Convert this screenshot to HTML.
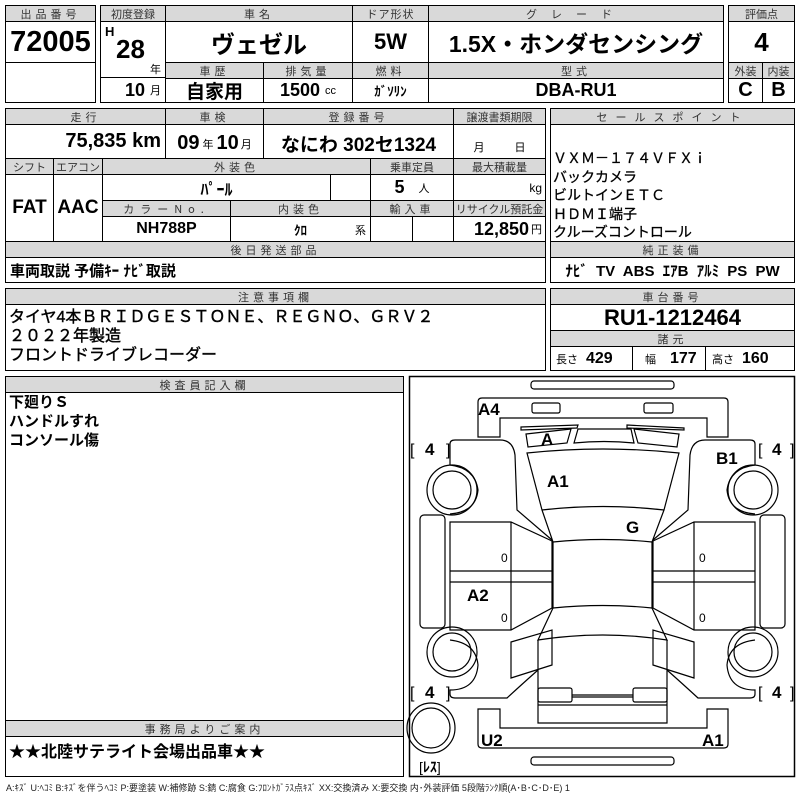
<!DOCTYPE html>
<html><head><meta charset="utf-8"><style>
body{margin:0;width:800px;height:800px;background:#fff;position:relative;overflow:hidden;font-family:"Liberation Sans Narrow","Liberation Sans","Noto Sans CJK JP",sans-serif;color:#000}
.b{position:absolute;border:1px solid #000;box-sizing:border-box;display:flex;align-items:center;justify-content:center;white-space:nowrap;overflow:hidden;font-weight:bold}
.h{background:#d9d9d9;font-size:11px;letter-spacing:4px;color:#333;font-weight:normal;font-family:"Noto Sans CJK JP",sans-serif}
.o{position:absolute;border:1.5px solid #000;box-sizing:border-box}
.t{position:absolute;white-space:nowrap;font-weight:bold}
.s{font-size:11px;font-weight:normal}
.j{font-family:"Liberation Sans","Noto Sans CJK JP",sans-serif}
</style></head><body>
<!-- box1 -->
<div class="o" style="left:5px;top:5px;width:91px;height:98px"></div>
<div class="b h" style="left:5px;top:5px;width:91px;height:17px">出品番号</div>
<div class="b" style="left:5px;top:21px;width:91px;height:42px;font-size:29px">72005</div>
<div class="b" style="left:5px;top:62px;width:91px;height:41px"></div>
<!-- box2 -->
<div class="o" style="left:100px;top:5px;width:624px;height:98px"></div>
<div class="b h" style="left:100px;top:5px;width:66px;height:17px;letter-spacing:0">初度登録</div>
<div class="b h" style="left:165px;top:5px;width:188px;height:17px">車名</div>
<div class="b h" style="left:352px;top:5px;width:77px;height:17px;letter-spacing:1px">ドア形状</div>
<div class="b h" style="left:428px;top:5px;width:296px;height:17px;letter-spacing:14px">グレード</div>
<div class="b" style="left:100px;top:21px;width:66px;height:57px"></div>
<div class="t" style="left:105px;top:24px;font-size:13px">H</div>
<div class="t" style="left:116px;top:34px;font-size:26px">28</div>
<div class="t s j" style="left:150px;top:61px">年</div>
<div class="b" style="left:100px;top:77px;width:66px;height:26px;font-size:18px;justify-content:flex-end;padding-right:4px">10<span class="s j" style="margin-left:5px">月</span></div>
<div class="b j" style="left:165px;top:21px;width:188px;height:42px;font-size:24px">ヴェゼル</div>
<div class="b" style="left:352px;top:21px;width:77px;height:42px;font-size:22px">5W</div>
<div class="b j" style="left:428px;top:21px;width:296px;height:42px;font-size:23px">1.5X・ホンダセンシング</div>
<div class="b h" style="left:165px;top:62px;width:99px;height:17px">車歴</div>
<div class="b h" style="left:263px;top:62px;width:90px;height:17px">排気量</div>
<div class="b h" style="left:352px;top:62px;width:77px;height:17px">燃料</div>
<div class="b h" style="left:428px;top:62px;width:296px;height:17px">型式</div>
<div class="b j" style="left:165px;top:78px;width:99px;height:25px;font-size:19px">自家用</div>
<div class="b" style="left:263px;top:78px;width:90px;height:25px;font-size:18px">1500<span class="s" style="margin-left:5px">cc</span></div>
<div class="b j" style="left:352px;top:78px;width:77px;height:25px;font-size:13px">ｶﾞｿﾘﾝ</div>
<div class="b" style="left:428px;top:78px;width:296px;height:25px;font-size:18px">DBA-RU1</div>
<!-- box3 -->
<div class="o" style="left:728px;top:5px;width:67px;height:98px"></div>
<div class="b h" style="left:728px;top:5px;width:67px;height:17px;letter-spacing:0">評価点</div>
<div class="b" style="left:728px;top:21px;width:67px;height:42px;font-size:26px">4</div>
<div class="b h" style="left:728px;top:62px;width:35px;height:17px;letter-spacing:0">外装</div>
<div class="b h" style="left:762px;top:62px;width:33px;height:17px;letter-spacing:0">内装</div>
<div class="b" style="left:728px;top:78px;width:35px;height:25px;font-size:20px">C</div>
<div class="b" style="left:762px;top:78px;width:33px;height:25px;font-size:20px">B</div>
<!-- section2 -->
<div class="o" style="left:5px;top:108px;width:541px;height:175px"></div>
<div class="b h" style="left:5px;top:108px;width:161px;height:17px">走行</div>
<div class="b h" style="left:165px;top:108px;width:99px;height:17px">車検</div>
<div class="b h" style="left:263px;top:108px;width:191px;height:17px">登録番号</div>
<div class="b h" style="left:453px;top:108px;width:93px;height:17px;letter-spacing:0">譲渡書類期限</div>
<div class="b" style="left:5px;top:124px;width:161px;height:35px;font-size:20px;justify-content:flex-end;padding-right:4px">75,835 km</div>
<div class="b" style="left:165px;top:124px;width:99px;height:35px;font-size:20px;padding-top:4px">09<span class="s j" style="margin:0 3px">年</span>10<span class="s j" style="margin-left:2px">月</span></div>
<div class="b j" style="left:263px;top:124px;width:191px;height:35px;font-size:19px;padding-top:4px">なにわ 302セ1324</div>
<div class="b" style="left:453px;top:124px;width:93px;height:35px;font-weight:normal;font-size:11px;align-items:flex-end;padding-bottom:3px"><span class="j">月</span><span class="j" style="margin-left:30px">日</span></div>
<div class="b h" style="left:5px;top:158px;width:49px;height:17px;letter-spacing:0">シフト</div>
<div class="b h" style="left:53px;top:158px;width:50px;height:17px;letter-spacing:0">エアコン</div>
<div class="b h" style="left:102px;top:158px;width:269px;height:17px">外装色</div>
<div class="b h" style="left:370px;top:158px;width:84px;height:17px;letter-spacing:0">乗車定員</div>
<div class="b h" style="left:453px;top:158px;width:93px;height:17px;letter-spacing:0">最大積載量</div>
<div class="b" style="left:5px;top:174px;width:49px;height:68px;font-size:19px">FAT</div>
<div class="b" style="left:53px;top:174px;width:50px;height:68px;font-size:19px">AAC</div>
<div class="b j" style="left:102px;top:174px;width:229px;height:27px;font-size:16px">ﾊﾟｰﾙ</div>
<div class="b" style="left:330px;top:174px;width:41px;height:27px"></div>
<div class="b" style="left:370px;top:174px;width:84px;height:27px;font-size:18px">5<span class="s j" style="margin-left:14px">人</span></div>
<div class="b" style="left:453px;top:174px;width:93px;height:27px;justify-content:flex-end;padding-right:3px;font-weight:normal;font-size:12px">kg</div>
<div class="b h" style="left:102px;top:200px;width:129px;height:17px;letter-spacing:6px">カラーNo.</div>
<div class="b h" style="left:230px;top:200px;width:141px;height:17px">内装色</div>
<div class="b h" style="left:370px;top:200px;width:84px;height:17px">輸入車</div>
<div class="b h" style="left:453px;top:200px;width:93px;height:17px;letter-spacing:0">リサイクル預託金</div>
<div class="b" style="left:102px;top:216px;width:129px;height:26px;font-size:16px">NH788P</div>
<div class="b j" style="left:230px;top:216px;width:141px;height:26px;font-size:13px">ｸﾛ<span class="s" style="position:absolute;right:4px;bottom:3px">系</span></div>
<div class="b" style="left:370px;top:216px;width:43px;height:26px"></div>
<div class="b" style="left:412px;top:216px;width:42px;height:26px"></div>
<div class="b" style="left:453px;top:216px;width:93px;height:26px;font-size:18px;justify-content:flex-end;padding-right:3px">12,850<span class="s j" style="margin-left:2px">円</span></div>
<div class="b h" style="left:5px;top:241px;width:541px;height:17px">後日発送部品</div>
<div class="b j" style="left:5px;top:257px;width:541px;height:26px;font-size:15px;justify-content:flex-start;padding-left:4px">車両取説 予備ｷｰ ﾅﾋﾞ取説</div>
<!-- sales -->
<div class="o" style="left:550px;top:108px;width:245px;height:175px"></div>
<div class="b h" style="left:550px;top:108px;width:245px;height:17px;letter-spacing:8px">セールスポイント</div>
<div class="t j" style="left:553px;top:149px;font-size:14px;line-height:18.5px;font-weight:normal;-webkit-text-stroke:0.3px #000">ＶＸＭ－１７４ＶＦＸｉ<br>バックカメラ<br>ビルトインＥＴＣ<br>ＨＤＭＩ端子<br>クルーズコントロール</div>
<div class="b h" style="left:550px;top:241px;width:245px;height:17px">純正装備</div>
<div class="b j" style="left:550px;top:257px;width:245px;height:26px;font-size:15px;word-spacing:4px">ﾅﾋﾞ TV ABS ｴｱB ｱﾙﾐ PS PW</div>
<!-- section3 -->
<div class="o" style="left:5px;top:288px;width:541px;height:83px"></div>
<div class="b h" style="left:5px;top:288px;width:541px;height:17px">注意事項欄</div>
<div class="t j" style="left:9px;top:308px;font-size:16px;line-height:19px;font-weight:normal;-webkit-text-stroke:0.4px #000">タイヤ4本ＢＲＩＤＧＥＳＴＯＮＥ、ＲＥＧＮＯ、ＧＲＶ２<br>２０２２年製造<br>フロントドライブレコーダー</div>
<div class="o" style="left:550px;top:288px;width:245px;height:83px"></div>
<div class="b h" style="left:550px;top:288px;width:245px;height:17px">車台番号</div>
<div class="b" style="left:550px;top:304px;width:245px;height:27px;font-size:22px">RU1-1212464</div>
<div class="b h" style="left:550px;top:330px;width:245px;height:17px">諸元</div>
<div class="b" style="left:550px;top:346px;width:83px;height:25px;font-size:16px;justify-content:flex-start;padding-left:5px"><span class="s j" style="margin-right:8px">長さ</span>429</div>
<div class="b" style="left:632px;top:346px;width:74px;height:25px;font-size:16px;justify-content:flex-start;padding-left:12px"><span class="s j" style="margin-right:14px">幅</span>177</div>
<div class="b" style="left:705px;top:346px;width:90px;height:25px;font-size:16px;justify-content:flex-start;padding-left:6px"><span class="s j" style="margin-right:8px">高さ</span>160</div>
<!-- inspector -->
<div class="o" style="left:5px;top:376px;width:399px;height:401px"></div>
<div class="b h" style="left:5px;top:376px;width:399px;height:17px">検査員記入欄</div>
<div class="t j" style="left:9px;top:393px;font-size:15px;line-height:19px">下廻りＳ<br>ハンドルすれ<br>コンソール傷</div>
<div class="b h" style="left:5px;top:720px;width:399px;height:17px">事務局よりご案内</div>
<div class="t j" style="left:9px;top:738px;font-size:16px">★★北陸サテライト会場出品車★★</div>
<div class="t j" style="left:6px;top:781px;font-size:9px;font-weight:normal;color:#222">A:ｷｽﾞ U:ﾍｺﾐ B:ｷｽﾞを伴うﾍｺﾐ P:要塗装 W:補修跡 S:錆 C:腐食 G:ﾌﾛﾝﾄｶﾞﾗｽ点ｷｽﾞ XX:交換済み X:要交換 内･外装評価 5段階ﾗﾝｸ順(A･B･C･D･E) 1</div>
<!-- diagram -->
<svg style="position:absolute;left:0;top:0" width="800" height="800" viewBox="0 0 800 800">
<rect x="409.5" y="376.5" width="385" height="400" fill="none" stroke="#000" stroke-width="1.5"/>
<g fill="none" stroke="#000" stroke-width="1.2">
<rect x="531" y="381" width="143" height="8" rx="3"/>
<rect x="531" y="757" width="143" height="8" rx="3"/>
<path d="M478,437 L478,402 Q478,398 482,398 L724,398 Q728,398 728,402 L728,437 L707,437 L707,418 L500,418 L500,437 Z"/>
<path d="M478,709 L500,709 L500,728 L707,728 L707,709 L728,709 L728,744 Q728,748 724,748 L482,748 Q478,748 478,744 Z"/>
<rect x="532" y="403" width="28" height="10" rx="2"/>
<rect x="644" y="403" width="29" height="10" rx="2"/>
<path d="M521,427 L578,425 L577,428 L521,430 Z"/>
<path d="M627,425 L684,428 L684,430 L627,428 Z"/>
<path d="M526,434 L571,429 L567,443 L528,447 Z"/>
<path d="M634,429 L679,434 L677,447 L638,443 Z"/>
<path d="M574,443 L578,429 L631,429 L634,443 Q604,440 574,443 Z"/>
<path d="M527,453 Q603,445 679,453 L664,510 Q603,503 542,510 Z"/>
<path d="M542,510 L553,542 Q603,537 652,542 L664,510"/>
<path d="M553,542 L553,608 Q603,603 652,608 L652,542"/>
<path d="M553,608 L538,640 Q603,630 667,640 L652,608"/>
<path d="M538,640 L538,723 L667,723 L667,640"/>
<path d="M538,705 L667,705"/>
<rect x="538" y="688" width="34" height="14" rx="2"/>
<rect x="633" y="688" width="34" height="14" rx="2"/>
<path d="M572,695 L633,695 M572,697 L633,697"/>
<g id="L">
<path d="M450,465 L450,444 Q450,440 455,440 L500,440 Q513,440 515,455 L517,510 L552,540"/>
<path d="M450,465 Q475,468 478,490 Q476,512 450,514"/>
<rect x="420" y="515" width="25" height="113" rx="4"/>
<path d="M450,522 L511,522 L552,541 L552,608 L511,630 L450,630 Z M450,571 L552,571 M450,582 L552,582 M511,522 L511,630"/>
<path d="M511,642 L552,630 L552,665 L511,678 Z"/>
<path d="M450,640 Q476,643 478,665 Q476,690 450,690 L450,694 Q450,698 455,698 L507,698 Q520,686 538,670"/>
<circle cx="452" cy="490" r="25"/><circle cx="452" cy="490" r="19"/>
<circle cx="452" cy="652" r="25"/><circle cx="452" cy="652" r="19"/>
</g>
<use href="#L" transform="translate(1205,0) scale(-1,1)"/>
<ellipse cx="431" cy="728" rx="24" ry="25"/><ellipse cx="431" cy="728" rx="19" ry="20"/>
</g>
<g font-family="Liberation Sans Narrow, Liberation Sans, sans-serif" font-weight="bold" font-size="17">
<text x="478" y="415">A4</text>
<text x="541" y="445">A</text>
<text x="547" y="487">A1</text>
<text x="716" y="464">B1</text>
<text x="626" y="533">G</text>
<text x="467" y="601">A2</text>
<text x="481" y="746">U2</text>
<text x="702" y="746">A1</text>
<text x="410" y="455" font-size="16" font-weight="normal">[</text><text x="425" y="455">4</text><text x="446" y="455" font-size="16" font-weight="normal">]</text>
<text x="758" y="455" font-size="16" font-weight="normal">[</text><text x="772" y="455">4</text><text x="790" y="455" font-size="16" font-weight="normal">]</text>
<text x="410" y="698" font-size="16" font-weight="normal">[</text><text x="425" y="698">4</text><text x="446" y="698" font-size="16" font-weight="normal">]</text>
<text x="758" y="698" font-size="16" font-weight="normal">[</text><text x="772" y="698">4</text><text x="790" y="698" font-size="16" font-weight="normal">]</text>
<text x="419" y="772" font-size="14" font-family="Liberation Sans, Noto Sans CJK JP, sans-serif" font-weight="normal">[<tspan font-weight="bold">ﾚｽ</tspan>]</text>
<g font-size="12" font-weight="normal"><text x="501" y="562">0</text><text x="501" y="622">0</text><text x="699" y="562">0</text><text x="699" y="622">0</text></g>
</g>
</svg>
</body></html>
